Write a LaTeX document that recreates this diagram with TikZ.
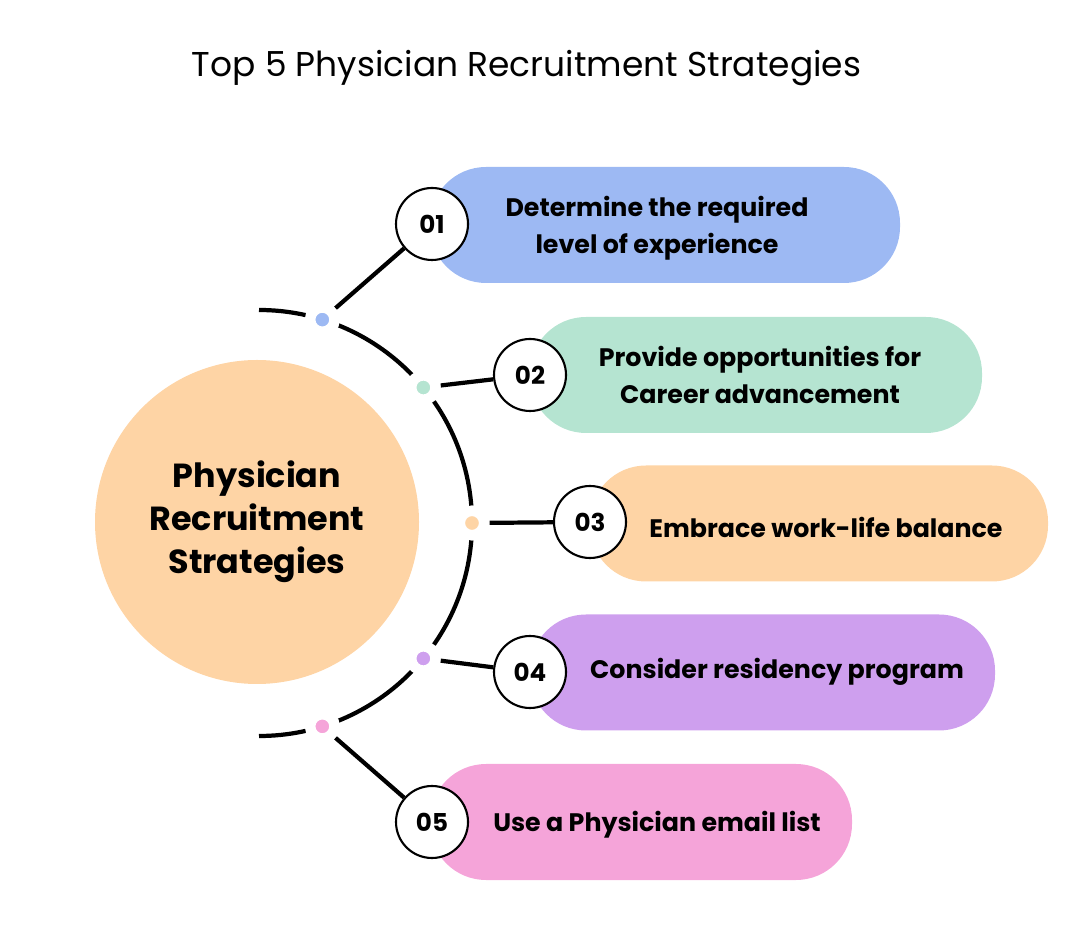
\documentclass[tikz,border=0pt]{standalone}
\usepackage{fontspec}
\setmainfont{Poppins}
\usetikzlibrary{positioning,calc}
\definecolor{pillblue}{RGB}{157,185,243}
\definecolor{pillgreen}{RGB}{181,228,209}
\definecolor{pillorange}{RGB}{254,212,165}
\definecolor{pillpurple}{RGB}{206,159,238}
\definecolor{pillpink}{RGB}{245,164,217}
\tikzset{
  pill/.style={rounded corners=0.56cm, minimum height=1.16cm, inner sep=0pt},
  numcircle/.style={circle, draw, line width=0.6pt, fill=white, minimum size=0.72cm, inner sep=0pt, font=\fontsize{7}{9}\selectfont\bfseries},
  arcdot/.style={circle, draw=white, line width=3pt, minimum size=0.245cm, inner sep=0pt},
  link/.style={line width=1.2pt},
  pilltext/.style={font=\fontsize{7.2}{10.6}\selectfont\bfseries, align=center}
}

\begin{document}
\begin{tikzpicture}
  \useasboundingbox (0,0) rectangle (10.8,-9.45);
  \node[font=\fontsize{9.8}{12}\selectfont] (title) at (5.265,-0.68) {Top 5 Physician Recruitment Strategies};

  % hub
  \node[circle, fill=pillorange, minimum size=3.24cm, inner sep=0pt, align=center,
        font=\fontsize{9.5}{12.2}\selectfont\bfseries] (hub) at (2.57,-5.22)
        {Physician\\Recruitment\\Strategies};
  \coordinate (arcc) at (2.59,-5.23);
  \draw[link] ($(arcc)+(90:2.13)$) arc (90:-90:2.13);

  % dots on the arc
  \node[arcdot, fill=pillblue] (d1) at ($(arcc)+(72.7:2.13)$) {};
  \node[arcdot, fill=pillgreen] (d2) at ($(arcc)+(39.5:2.13)$) {};
  \node[arcdot, fill=pillorange] (d3) at ($(arcc)+(0:2.13)$) {};
  \node[arcdot, fill=pillpurple] (d4) at ($(arcc)+(-39.5:2.13)$) {};
  \node[arcdot, fill=pillpink] (d5) at ($(arcc)+(-72.7:2.13)$) {};

  % pills
  \node[pill, fill=pillblue, minimum width=4.70cm] (p1) at (6.65,-2.25) {};
  \node[pill, fill=pillgreen, minimum width=4.52cm] (p2) at (7.56,-3.75) {};
  \node[pill, fill=pillorange, minimum width=4.58cm] (p3) at (8.19,-5.235) {};
  \node[pill, fill=pillpurple, minimum width=4.65cm] (p4) at (7.625,-6.725) {};
  \node[pill, fill=pillpink, minimum width=4.22cm] (p5) at (6.41,-8.22) {};

  \node[pilltext] (t1) at (6.57,-2.28) {Determine the required\\level of experience};
  \node[pilltext] (t2) at (7.60,-3.75) {Provide opportunities for\\Career advancement};
  \node[pilltext] (t3) at (8.26,-5.27) {Embrace work-life balance};
  \node[pilltext] (t4) at (7.77,-6.72) {Consider residency program};
  \node[pilltext] (t5) at (6.57,-8.25) {Use a Physician email list};

  % numbers
  \node[numcircle] (n1) at (4.32,-2.24) {01};
  \node[numcircle] (n2) at (5.30,-3.75) {02};
  \node[numcircle] (n3) at (5.90,-5.22) {03};
  \node[numcircle] (n4) at (5.30,-6.72) {04};
  \node[numcircle] (n5) at (4.32,-8.22) {05};

  \draw[link] (d1) -- (n1);
  \draw[link] (d2) -- (n2);
  \draw[link] (d3) -- (n3);
  \draw[link] (d4) -- (n4);
  \draw[link] (d5) -- (n5);
\end{tikzpicture}
\end{document}
